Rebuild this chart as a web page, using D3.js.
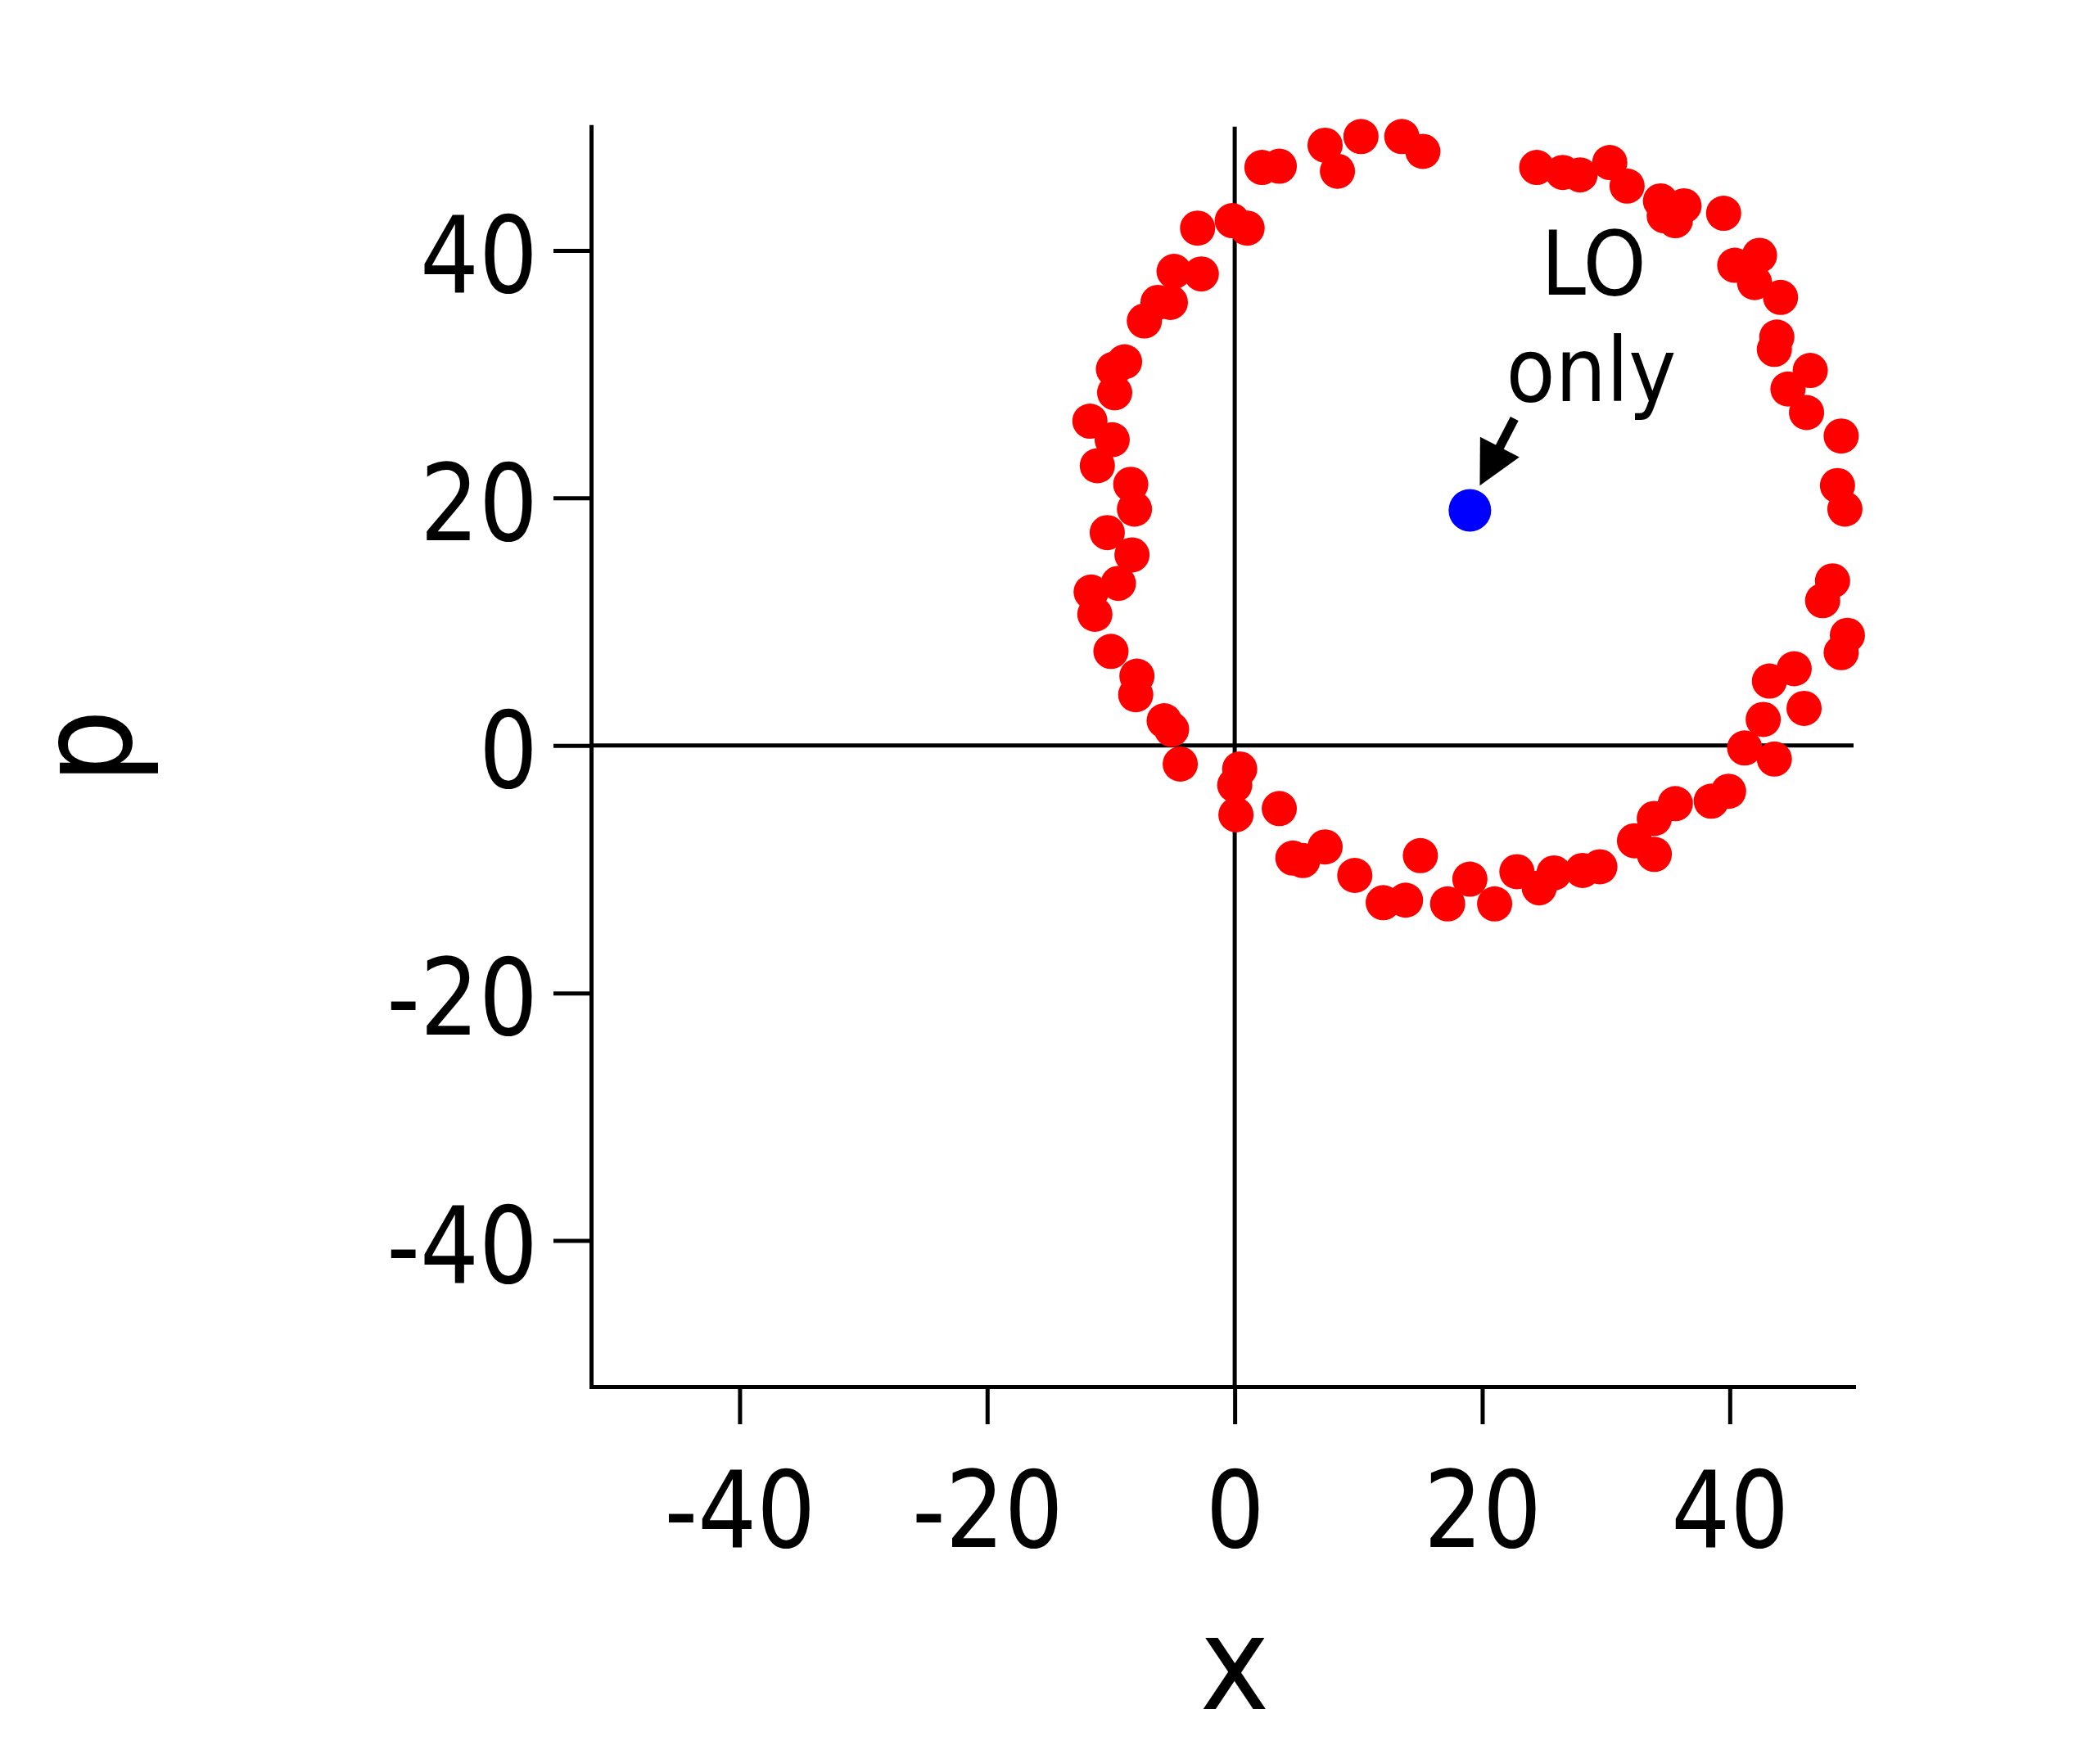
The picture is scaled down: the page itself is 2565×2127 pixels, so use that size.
<!DOCTYPE html>
<html lang="en">
<head>
<meta charset="utf-8">
<title>LO only</title>
<script src="https://cdn.jsdelivr.net/npm/d3@7"></script>
<style>
  html, body { margin: 0; padding: 0; background: #fff; }
  svg { display: block; }
</style>
</head>
<body>

<svg id="canvas"></svg>

<script>

  const redX = [2.2, 3.6, 7.3, 8.3, 10.2, 13.5, 15.2,
    -3.0, -0.2, 1.0, -4.9, -2.7, -6.2, -5.2, -7.3, -8.9, -9.8, -9.7, -11.7, -9.9, -11.1, -8.4, -8.1,
    -10.3, -8.3, -9.4, -11.6, -11.3, -10.0, -7.9, -8.0, -5.7, -5.1, -4.4, 0.4, 0.0, 0.1, 3.6,
    4.7, 5.5, 7.3, 9.7, 15.0, 12.0, 13.8, 17.2,
    19.0, 21.0, 22.8, 24.6, 25.8, 28.1, 29.5, 32.3, 33.9, 33.9, 35.6, 38.5, 39.9, 41.2, 43.6,
    42.7, 43.2, 45.2, 46.0, 49.0, 49.5, 47.5, 48.3,
    24.4, 26.5, 27.9, 30.3, 31.7, 34.4, 34.7, 36.3, 35.6, 39.5, 40.4, 42.4, 42.0, 44.1, 43.8,
    43.6, 46.5, 44.7, 46.2, 49.0, 48.7, 49.3];
  const redY = [46.7, 46.8, 48.5, 46.4, 49.2, 49.2, 48.0,
    41.8, 42.4, 41.8, 38.3, 38.1, 35.8, 35.8, 34.3, 31.0, 30.4, 28.5, 26.2, 24.7, 22.6, 21.1, 19.1,
    17.2, 15.4, 13.1, 12.4, 10.6, 7.6, 5.6, 4.1, 2.0, 1.3, -1.5, -1.9, -3.2, -5.6, -5.1,
    -9.1, -9.3, -8.2, -10.5, -8.9, -12.7, -12.5, -12.8,
    -10.8, -12.8, -10.2, -11.5, -10.3, -10.1, -9.8, -7.7, -8.8, -5.9, -4.7, -4.5, -3.7, -0.2, -1.1,
    2.1, 5.2, 6.2, 3.0, 7.5, 8.9, 11.7, 13.3,
    46.7, 46.3, 46.1, 47.1, 45.2, 44.0, 42.8, 43.6, 42.4, 43.0, 38.8, 39.6, 37.4, 36.2, 33.0,
    32.0, 30.3, 28.8, 26.9, 25.0, 21.0, 19.1];

  const blueX = [19.0];
  const blueY = [19.0];

  const xTicks = [-40, -20, 0, 20, 40];
  const yTicks = [-40, -20, 0, 20, 40];

  const xTitle = "x";
  const yTitle = "p";

  const noteLines = ["LO", "only"];
  const noteX = [29.0, 28.8];
  const noteY = [36.4, 27.8];
  const arrowFrom = [22.6, 26.4];
  const arrowTo = [19.8, 21.0];

  const width = 2565;
  const height = 2127;
  const fontFamily = "DejaVu Sans";
  const lineWidth = 5;

  const svg = d3.select("#canvas")
    .attr("width", width)
    .attr("height", height)
    .attr("viewBox", [0, 0, width, height]);

  svg.append("rect")
    .attr("width", width)
    .attr("height", height)
    .attr("fill", "white");

  const x = d3.scaleLinear().domain([-52, 50]).range([722, 2264]);
  const y = d3.scaleLinear().domain([-51.8, 50]).range([1694, 154.7]);

  // the reference lettering is narrower than DejaVu, squeeze it along the baseline
  function squeeze(sel, k) {
    sel.each(function () {
      const len = this.getComputedTextLength();
      d3.select(this)
        .attr("textLength", len * k)
        .attr("lengthAdjust", "spacingAndGlyphs");
    });
  }

  // zero lines
  svg.append("line")
    .attr("x1", x(0)).attr("x2", x(0))
    .attr("y1", y.range()[0]).attr("y2", y.range()[1])
    .attr("stroke", "black")
    .attr("stroke-width", lineWidth);
  svg.append("line")
    .attr("x1", x.range()[0]).attr("x2", x.range()[1])
    .attr("y1", y(0)).attr("y2", y(0))
    .attr("stroke", "black")
    .attr("stroke-width", lineWidth);

  // axes
  const xAxis = svg.append("g")
    .attr("transform", `translate(0,${y.range()[0]})`)
    .call(d3.axisBottom(x)
      .tickValues(xTicks)
      .tickSize(46)
      .tickSizeOuter(0)
      .tickFormat(d => String(d)));

  const yAxis = svg.append("g")
    .attr("transform", `translate(${x.range()[0]},0)`)
    .call(d3.axisLeft(y)
      .tickValues(yTicks)
      .tickSize(46)
      .tickSizeOuter(0)
      .tickPadding(19)
      .tickFormat(d => String(d)));

  [xAxis, yAxis].forEach(ax => {
    ax.selectAll("path, line")
      .attr("stroke", "black")
      .attr("stroke-width", lineWidth);
    ax.select(".domain").attr("stroke-linecap", "square");
    ax.selectAll("text")
      .attr("font-family", fontFamily)
      .attr("font-size", 130)
      .attr("fill", "black");
  });

  xAxis.selectAll("text").attr("y", 196).attr("dy", 0);
  yAxis.selectAll("text").attr("dy", "0.39em");
  squeeze(xAxis.selectAll("text"), 0.87);
  squeeze(yAxis.selectAll("text"), 0.87);

  // points
  svg.append("g")
    .selectAll("circle")
    .data(redX.map((v, i) => [v, redY[i]]))
    .join("circle")
    .attr("cx", d => x(d[0]))
    .attr("cy", d => y(d[1]))
    .attr("r", 21.5)
    .attr("fill", "#ff0000");

  svg.append("g")
    .selectAll("circle")
    .data(blueX.map((v, i) => [v, blueY[i]]))
    .join("circle")
    .attr("cx", d => x(d[0]))
    .attr("cy", d => y(d[1]))
    .attr("r", 26)
    .attr("fill", "#0000ff");

  // arrow pointing at the blue point
  const fx = x(arrowFrom[0]), fy = y(arrowFrom[1]);
  const tx = x(arrowTo[0]), ty = y(arrowTo[1]);
  const len = Math.hypot(tx - fx, ty - fy);
  const ux = (tx - fx) / len, uy = (ty - fy) / len;
  const headLen = 53, headHalf = 27;
  const bx = tx - ux * headLen, by = ty - uy * headLen;

  svg.append("line")
    .attr("x1", fx).attr("y1", fy)
    .attr("x2", bx + ux * 3).attr("y2", by + uy * 3)
    .attr("stroke", "black")
    .attr("stroke-width", 11);
  svg.append("polygon")
    .attr("points", [
      [tx, ty],
      [bx - uy * headHalf, by + ux * headHalf],
      [bx + uy * headHalf, by - ux * headHalf]
    ].map(p => p.join(",")).join(" "))
    .attr("fill", "black");

  const notes = svg.append("g")
    .selectAll("text")
    .data(noteLines)
    .join("text")
    .attr("x", (d, i) => x(noteX[i]))
    .attr("y", (d, i) => y(noteY[i]))
    .attr("text-anchor", "middle")
    .attr("font-family", fontFamily)
    .attr("font-size", 108)
    .attr("fill", "black")
    .text(d => d);
  squeeze(notes, 0.91);

  // axis titles
  const xt = svg.append("text")
    .attr("x", x(0))
    .attr("y", 2088)
    .attr("text-anchor", "middle")
    .attr("font-family", fontFamily)
    .attr("font-size", 158)
    .attr("fill", "black")
    .text(xTitle);
  squeeze(xt, 0.91);

  const yt = svg.append("text")
    .attr("transform", "translate(160,912) rotate(-90)")
    .attr("text-anchor", "middle")
    .attr("font-family", fontFamily)
    .attr("font-size", 158)
    .attr("fill", "black")
    .text(yTitle);
  squeeze(yt, 0.91);

</script>
</body>
</html>
